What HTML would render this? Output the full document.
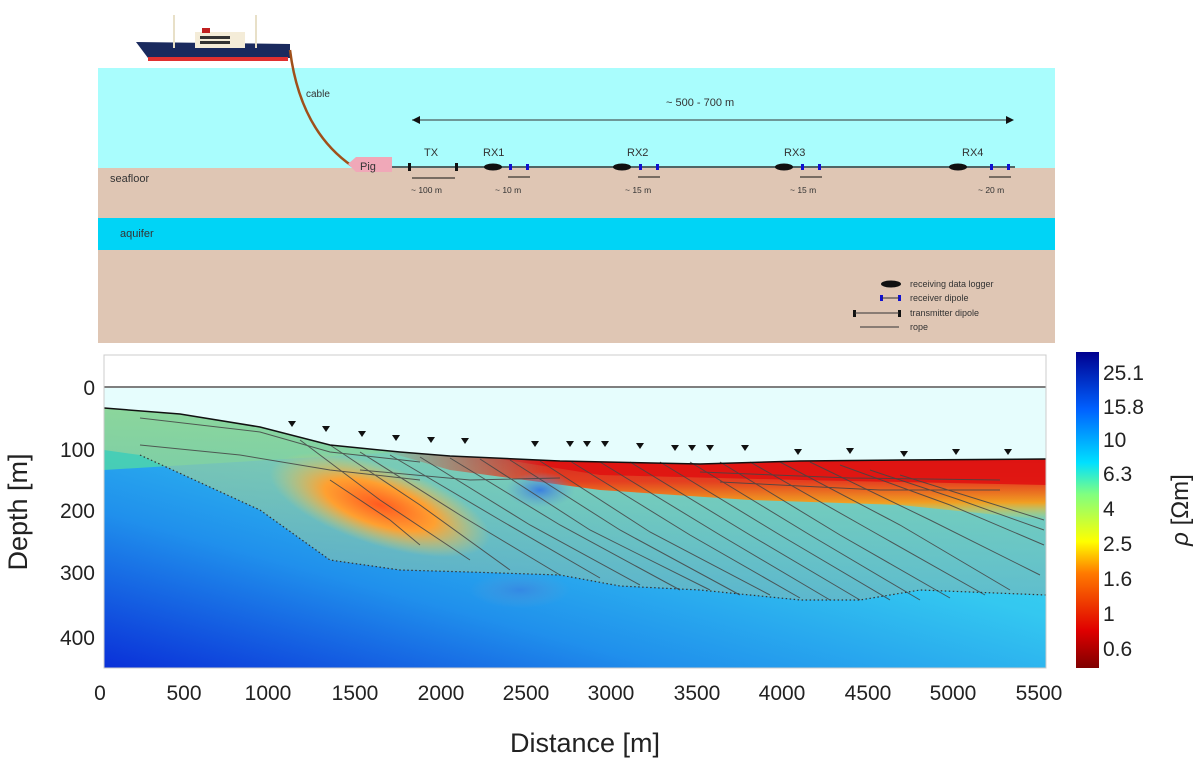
<!DOCTYPE html>
<html><head><meta charset="utf-8"><style>
html,body{margin:0;padding:0;background:#fff;}
svg{display:block;font-family:"Liberation Sans","DejaVu Sans",sans-serif;}
</style></head><body>
<svg width="1200" height="761" viewBox="0 0 1200 761" xmlns="http://www.w3.org/2000/svg">
<defs>
<linearGradient id="jet" x1="0" y1="1" x2="0" y2="0">
<stop offset="0" stop-color="#7f0000"/><stop offset="0.12" stop-color="#e00000"/>
<stop offset="0.3" stop-color="#ff7a00"/><stop offset="0.4" stop-color="#ffff00"/>
<stop offset="0.55" stop-color="#80ff80"/><stop offset="0.65" stop-color="#00e0ff"/>
<stop offset="0.82" stop-color="#0060ff"/><stop offset="1" stop-color="#00008f"/>
</linearGradient>
<linearGradient id="deep" x1="1" y1="0" x2="0" y2="1">
<stop offset="0" stop-color="#40e0f0"/><stop offset="0.4" stop-color="#34c8f0"/>
<stop offset="0.7" stop-color="#2090ec"/><stop offset="1" stop-color="#0a30d8"/>
</linearGradient>
<linearGradient id="redband" x1="0" y1="0" x2="0" y2="1">
<stop offset="0" stop-color="#d81010"/><stop offset="0.45" stop-color="#f03010"/>
<stop offset="0.75" stop-color="#ff9a10"/><stop offset="1" stop-color="#e8e040" stop-opacity="0"/>
</linearGradient>
<linearGradient id="redfade" x1="0" y1="0" x2="1" y2="0">
<stop offset="0" stop-color="#fff" stop-opacity="0"/><stop offset="0.25" stop-color="#fff" stop-opacity="1"/><stop offset="1" stop-color="#fff" stop-opacity="1"/>
</linearGradient>
<mask id="rm"><rect x="380" y="440" width="670" height="100" fill="url(#redfade)"/></mask>
<radialGradient id="blob">
<stop offset="0" stop-color="#ff5a20"/><stop offset="0.5" stop-color="#ffa030"/><stop offset="1" stop-color="#e8d060" stop-opacity="0"/>
</radialGradient>
<radialGradient id="bblob">
<stop offset="0" stop-color="#3a80e0"/><stop offset="1" stop-color="#60a0d0" stop-opacity="0"/>
</radialGradient>
<linearGradient id="green" x1="0" y1="0" x2="0" y2="1">
<stop offset="0" stop-color="#a8d890"/><stop offset="0.5" stop-color="#8ccaa8"/><stop offset="1" stop-color="#70b8c0"/>
</linearGradient>
<clipPath id="plot"><rect x="104" y="355" width="942" height="313"/></clipPath>
</defs>

<rect x="98" y="68" width="957" height="100" fill="#a9fdfd"/>
<rect x="98" y="168" width="957" height="50" fill="#dfc6b4"/>
<rect x="98" y="218" width="957" height="32" fill="#00d4f6"/>
<rect x="98" y="250" width="957" height="93" fill="#dfc6b4"/>
<polygon points="136,42 148,58 290,58 290,44" fill="#1a2a5e"/>
<rect x="148" y="57" width="140" height="4" fill="#e03030"/>
<rect x="195" y="32" width="50" height="16" fill="#f4ecd8"/>
<rect x="200" y="36" width="30" height="3" fill="#333"/>
<rect x="200" y="41" width="30" height="3" fill="#333"/>
<rect x="202" y="28" width="8" height="5" fill="#c02020"/>
<line x1="174" y1="15" x2="174" y2="48" stroke="#e8e0c8" stroke-width="2"/>
<line x1="256" y1="15" x2="256" y2="48" stroke="#e8e0c8" stroke-width="2"/>
<path d="M290,50 Q300,130 352,166" stroke="#a0501a" stroke-width="2.5" fill="none"/>
<text x="306" y="97" font-size="10" fill="#333">cable</text>
<polygon points="348,164 356,157 392,157 392,172 356,172" fill="#f0a8b8"/>
<text x="360" y="170" font-size="11" fill="#333">Pig</text>
<line x1="392" y1="167" x2="1015" y2="167" stroke="#333" stroke-width="1.5"/>
<line x1="412" y1="120" x2="1012" y2="120" stroke="#333" stroke-width="1"/>
<polygon points="412,120 420,116 420,124" fill="#111"/><polygon points="1014,120 1006,116 1006,124" fill="#111"/>
<text x="666" y="106" font-size="11" fill="#333">~ 500 - 700  m</text>
<rect x="408" y="163" width="3" height="8" fill="#111"/><rect x="455" y="163" width="3" height="8" fill="#111"/>
<line x1="412" y1="178" x2="455" y2="178" stroke="#111"/>
<text x="424" y="156" font-size="11" fill="#333">TX</text>
<text x="411" y="193" font-size="8.5" fill="#333">~ 100 m</text>
<g fill="#111">
<ellipse cx="493" cy="167" rx="9" ry="3.5"/><ellipse cx="622" cy="167" rx="9" ry="3.5"/>
<ellipse cx="784" cy="167" rx="9" ry="3.5"/><ellipse cx="958" cy="167" rx="9" ry="3.5"/>
</g>
<g fill="#1010d0">
<rect x="509" y="164" width="3" height="6"/><rect x="526" y="164" width="3" height="6"/>
<rect x="639" y="164" width="3" height="6"/><rect x="656" y="164" width="3" height="6"/>
<rect x="801" y="164" width="3" height="6"/><rect x="818" y="164" width="3" height="6"/>
<rect x="990" y="164" width="3" height="6"/><rect x="1007" y="164" width="3" height="6"/>
</g>
<g stroke="#111"><line x1="508" y1="177" x2="530" y2="177"/><line x1="638" y1="177" x2="660" y2="177"/><line x1="800" y1="177" x2="822" y2="177"/><line x1="989" y1="177" x2="1011" y2="177"/></g>
<g font-size="11" fill="#333"><text x="483" y="156">RX1</text><text x="627" y="156">RX2</text><text x="784" y="156">RX3</text><text x="962" y="156">RX4</text></g>
<g font-size="8.5" fill="#333"><text x="495" y="193">~ 10 m</text><text x="625" y="193">~ 15 m</text><text x="790" y="193">~ 15 m</text><text x="978" y="193">~ 20 m</text></g>
<text x="110" y="182" font-size="11" fill="#333">seafloor</text>
<text x="120" y="237" font-size="11" fill="#333">aquifer</text>
<ellipse cx="891" cy="284" rx="10" ry="3.5" fill="#111"/>
<rect x="880" y="295" width="3" height="6" fill="#1010d0"/><rect x="898" y="295" width="3" height="6" fill="#1010d0"/><line x1="882" y1="298" x2="899" y2="298" stroke="#333"/>
<rect x="853" y="310" width="3" height="7" fill="#111"/><rect x="898" y="310" width="3" height="7" fill="#111"/><line x1="855" y1="313" x2="899" y2="313" stroke="#333"/>
<line x1="860" y1="327" x2="899" y2="327" stroke="#333"/>
<g font-size="9" fill="#333"><text x="910" y="287">receiving data logger</text><text x="910" y="301">receiver dipole</text><text x="910" y="316">transmitter dipole</text><text x="910" y="330">rope</text></g>

<g clip-path="url(#plot)">
<rect x="104" y="355" width="942" height="313" fill="#fff"/>
<rect x="104" y="388" width="942" height="280" fill="#e6fdfd"/>
<path d="M104,408 L180,414 L260,427 L330,445 L400,452 L450,456 L560,461 L700,464 L800,461 L900,460 L1046,459 L1046,668 L104,668 Z" fill="url(#deep)"/>
<path d="M104,408 L180,414 L260,427 L330,445 L400,452 L104,470 Z" fill="#50d8a8" opacity="0.8"/>
<path d="M104,408 L180,414 L260,427 L330,445 L400,452 L450,456 L560,461 L700,464 L800,461 L900,460 L1046,459 L1046,595 L920,590 L860,600 L800,600 L700,590 L620,586 L560,575 L470,572 L400,570 L330,560 L260,510 L140,455 L104,450 Z" fill="url(#green)" opacity="0.7"/>
<g mask="url(#rm)">
<path d="M380,450 L450,456 L560,461 L700,464 L800,461 L900,460 L1046,459 L1046,520 L900,505 L750,500 L600,490 L450,470 Z" fill="url(#redband)" opacity="0.9"/>
<path d="M500,459 L560,461 L700,464 L800,461 L900,460 L1046,459 L1046,485 L800,480 L600,475 Z" fill="#e01010" opacity="0.85"/>
</g>
<ellipse cx="380" cy="505" rx="115" ry="40" transform="rotate(18 380 505)" fill="url(#blob)"/>
<ellipse cx="540" cy="490" rx="35" ry="18" fill="url(#bblob)"/>
<ellipse cx="520" cy="590" rx="50" ry="18" fill="url(#bblob)" opacity="0.7"/>
<g stroke="#444" stroke-width="1" fill="none" opacity="0.85">
<path d="M140,418 L260,432 L330,452 L420,462"/>
<path d="M140,445 L240,455 L330,470 L420,480"/>
<path d="M300,440 L380,500 L470,560"/><path d="M330,445 L420,505 L510,570"/>
<path d="M360,452 L460,515 L560,575"/><path d="M390,455 L500,520 L600,578"/>
<path d="M420,457 L530,525 L640,585"/><path d="M450,458 L560,525 L680,590"/>
<path d="M480,459 L590,530 L710,590"/><path d="M510,460 L620,530 L740,595"/>
<path d="M540,461 L650,532 L770,595"/><path d="M570,461 L690,535 L800,598"/>
<path d="M600,462 L720,535 L830,600"/><path d="M630,462 L750,535 L860,600"/>
<path d="M660,462 L780,535 L890,600"/><path d="M690,462 L810,535 L920,600"/>
<path d="M720,462 L840,535 L950,598"/><path d="M750,462 L870,530 L985,595"/>
<path d="M780,462 L900,525 L1010,590"/><path d="M810,462 L930,520 L1040,575"/>
<path d="M840,465 L950,505 L1044,545"/><path d="M870,470 L960,500 L1044,530"/>
<path d="M900,475 L980,500 L1044,520"/>
<path d="M700,472 L850,478 L1000,480"/><path d="M720,482 L880,490 L1000,490"/>
<path d="M360,470 L470,480 L560,478"/>
<path d="M330,480 L390,520 L420,545"/>
</g>
<path d="M140,455 L260,510 L330,560 L400,570 L470,572 L560,575 L620,586 L700,590 L800,600 L860,600 L920,590 L1046,595" stroke="#333" stroke-width="1.2" stroke-dasharray="1.5,2.5" fill="none"/>
<path d="M104,408 L180,414 L260,427 L330,445 L400,452 L450,456 L560,461 L700,464 L800,461 L900,460 L1046,459" stroke="#111" stroke-width="1.5" fill="none"/>
<line x1="104" y1="387" x2="1046" y2="387" stroke="#555" stroke-width="1.5"/>
<g fill="#111">
<path d="M288,421 h8 l-4,6z"/><path d="M322,426 h8 l-4,6z"/><path d="M358,431 h8 l-4,6z"/><path d="M392,435 h8 l-4,6z"/>
<path d="M427,437 h8 l-4,6z"/><path d="M461,438 h8 l-4,6z"/><path d="M531,441 h8 l-4,6z"/><path d="M566,441 h8 l-4,6z"/>
<path d="M583,441 h8 l-4,6z"/><path d="M601,441 h8 l-4,6z"/><path d="M636,443 h8 l-4,6z"/><path d="M671,445 h8 l-4,6z"/>
<path d="M688,445 h8 l-4,6z"/><path d="M706,445 h8 l-4,6z"/><path d="M741,445 h8 l-4,6z"/><path d="M794,449 h8 l-4,6z"/>
<path d="M846,448 h8 l-4,6z"/><path d="M900,451 h8 l-4,6z"/><path d="M952,449 h8 l-4,6z"/><path d="M1004,449 h8 l-4,6z"/>
</g>
</g>
<rect x="104" y="355" width="942" height="313" fill="none" stroke="#ccc" stroke-width="1"/>
<g font-size="21" fill="#222" text-anchor="end">
<text x="95" y="395">0</text><text x="95" y="457">100</text><text x="95" y="518">200</text><text x="95" y="580">300</text><text x="95" y="645">400</text>
</g>
<g font-size="21" fill="#222" text-anchor="middle">
<text x="100" y="700">0</text><text x="184" y="700">500</text><text x="268" y="700">1000</text><text x="355" y="700">1500</text>
<text x="441" y="700">2000</text><text x="526" y="700">2500</text><text x="611" y="700">3000</text><text x="697" y="700">3500</text>
<text x="782" y="700">4000</text><text x="868" y="700">4500</text><text x="953" y="700">5000</text><text x="1039" y="700">5500</text>
</g>
<text x="585" y="752" font-size="27" fill="#222" text-anchor="middle">Distance [m]</text>
<text transform="translate(27,512) rotate(-90)" font-size="27" fill="#222" text-anchor="middle">Depth [m]</text>
<rect x="1076" y="352" width="23" height="316" fill="url(#jet)"/>
<g font-size="21" fill="#222">
<text x="1103" y="380">25.1</text><text x="1103" y="414">15.8</text><text x="1103" y="447">10</text><text x="1103" y="481">6.3</text>
<text x="1103" y="516">4</text><text x="1103" y="551">2.5</text><text x="1103" y="586">1.6</text><text x="1103" y="621">1</text><text x="1103" y="656">0.6</text>
</g>
<text transform="translate(1188,510) rotate(-90)" font-size="24" fill="#222" text-anchor="middle"><tspan font-style="italic">ρ</tspan> [Ωm]</text>
</svg>
</body></html>
